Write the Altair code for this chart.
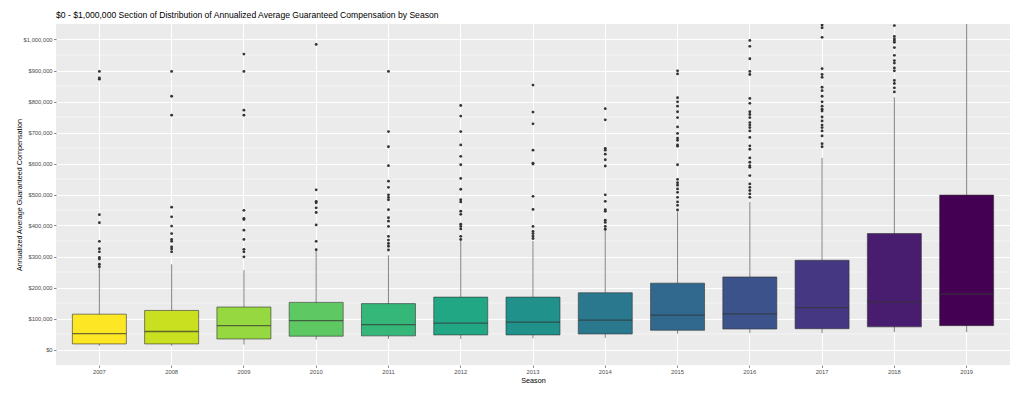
import altair as alt
import pandas as pd

seasons = [str(y) for y in range(2007, 2020)]
q1 = [18000, 18000, 34000, 43000, 44000, 47000, 47000, 50000, 62000, 66000, 67000, 73000, 77000]
median = [51000, 58000, 77000, 93000, 80000, 85000, 88000, 95000, 111000, 115000, 135000, 153000, 179000]
q3 = [114000, 126000, 137000, 152000, 148000, 169000, 169000, 183000, 214000, 234000, 288000, 374000, 498000]
whisker_low = [12000, 12000, 16000, 32000, 34000, 34000, 36000, 37000, 51000, 53000, 53000, 56000, 56000]
whisker_high = [262000, 275000, 256000, 320000, 304000, 353000, 350000, 385000, 443000, 476000, 618000, 814000, 1300000]

out_2007 = [435, 409, 349, 325, 315, 297, 292, 275, 267, 897, 876, 872]
out_2008 = [459, 428, 398, 374, 355, 349, 331, 324, 315, 897, 817, 756]
out_2009 = [449, 423, 419, 385, 355, 323, 315, 299, 953, 897, 772, 756]
out_2010 = [515, 478, 473, 457, 442, 402, 349, 322, 984]
out_2011 = [897, 703, 654, 593, 543, 523, 499, 491, 483, 451, 425, 414, 397, 365, 353, 342, 333, 321]
out_2012 = [787, 753, 703, 660, 623, 596, 552, 517, 483, 476, 446, 436, 404, 397, 389, 365, 355]
out_2013 = [853, 766, 728, 643, 601, 598, 494, 452, 397, 381, 374, 366, 358]
out_2014 = [777, 741, 649, 643, 630, 612, 592, 499, 478, 451, 446, 417, 410, 397, 388]
out_2015 = [899, 889, 812, 799, 785, 767, 748, 718, 697, 682, 675, 660, 656, 596, 549, 538, 530,
            518, 507, 491, 476, 465, 450]
out_2016 = [997, 978, 938, 897, 887, 810, 794, 767, 758, 748, 732, 724, 716, 705, 684, 657, 646,
            618, 604, 593, 588, 561, 534, 523, 513, 502, 491]
out_2017 = [1047, 1038, 1007, 906, 887, 878, 846, 835, 817, 799, 785, 775, 769, 750, 737, 724, 716,
            705, 689, 664, 654]
out_2018 = [1045, 1010, 1002, 996, 991, 974, 949, 932, 924, 908, 899, 868, 858, 844, 831]
out_2019 = []

outliers_k = [out_2007, out_2008, out_2009, out_2010, out_2011, out_2012, out_2013,
              out_2014, out_2015, out_2016, out_2017, out_2018, out_2019]

# viridis, reversed (2007 yellow -> 2019 dark purple)
fill_colors = ["#FDE725", "#C8E020", "#95D840", "#5EC962", "#35B779", "#22A785", "#21918C",
               "#2A788E", "#31688E", "#3B528B", "#453781", "#481D6F", "#440154"]

major_ticks = list(range(0, 1000001, 100000))
minor_ticks = list(range(50000, 1000000, 100000))

title_text = "$0 - $1,000,000 Section of Distribution of Annualized Average Guaranteed Compensation by Season"

boxes = pd.DataFrame({
    "season": seasons, "q1": q1, "median": median, "q3": q3,
    "lo": whisker_low, "hi": whisker_high,
})
outs = pd.DataFrame(
    [{"season": s, "value": v * 1000} for s, vals in zip(seasons, outliers_k) for v in vals]
)
minor = pd.DataFrame({"v": minor_ticks})

font = "Liberation Sans"
x_scale = alt.Scale(domain=seasons, paddingInner=0, paddingOuter=0.1)
y_scale = alt.Scale(domain=[-50000, 1050000], nice=False, zero=False)
color_scale = alt.Scale(domain=seasons, range=fill_colors)

x_enc = alt.X(
    "season:N", scale=x_scale, sort=seasons,
    axis=alt.Axis(
        title="Season", labelFontSize=5.8, labelColor="#4D4D4D", labelAngle=0,
        tickColor="#333333", tickSize=2.4, tickWidth=0.6, domain=False,
        grid=True, gridColor="white", gridWidth=1, bandPosition=0.5,
        labelPadding=1.5, titleFontSize=7.2, titleFontWeight="normal",
        titleColor="#000000", titlePadding=2,
    ),
)
y_axis = alt.Axis(
    title="Annualized Average Guaranteed Compensation", values=major_ticks,
    format="$,.0f", labelFontSize=5.8, labelColor="#4D4D4D", tickColor="#333333",
    tickSize=2.4, tickWidth=0.6, domain=False, grid=True, gridColor="white",
    gridWidth=1, labelPadding=1.5, titleFontSize=7.2, titleFontWeight="normal",
    titleColor="#000000", titlePadding=0,
)

minor_layer = alt.Chart(minor).mark_rule(color="white", strokeWidth=0.5).encode(
    y=alt.Y("v:Q", scale=y_scale, axis=y_axis)
)

whisk = alt.Chart(boxes).mark_rule(color="#333333", strokeWidth=0.6, clip=True).encode(
    x=x_enc,
    y=alt.Y("lo:Q", scale=y_scale, axis=y_axis),
    y2="hi:Q",
)

box = alt.Chart(boxes).mark_bar(size=54, stroke="#333333", strokeWidth=0.6, clip=True).encode(
    x=x_enc,
    y=alt.Y("q1:Q", scale=y_scale, axis=y_axis),
    y2="q3:Q",
    fill=alt.Fill("season:N", scale=color_scale, legend=None),
)

med = alt.Chart(boxes).mark_tick(color="#333333", thickness=1.3, size=54).encode(
    x=x_enc,
    y=alt.Y("median:Q", scale=y_scale, axis=y_axis),
)

pts = alt.Chart(outs).mark_circle(color="#333333", size=8, opacity=1, clip=True).encode(
    x=x_enc,
    y=alt.Y("value:Q", scale=y_scale, axis=y_axis),
)

chart = alt.layer(minor_layer, whisk, box, med, pts).properties(
    width=954, height=341,
    title=alt.Title(title_text, anchor="start", frame="group", fontSize=8.6,
                    fontWeight="normal", color="#000000", font=font, offset=4),
    autosize=alt.AutoSizeParams(type="none"),
    padding={"left": 48, "top": 16, "right": 6, "bottom": 24},
).configure(font=font).configure_view(fill="#EBEBEB", strokeWidth=0)

chart.save("out.html", embed_options={"renderer": "svg", "actions": False})
